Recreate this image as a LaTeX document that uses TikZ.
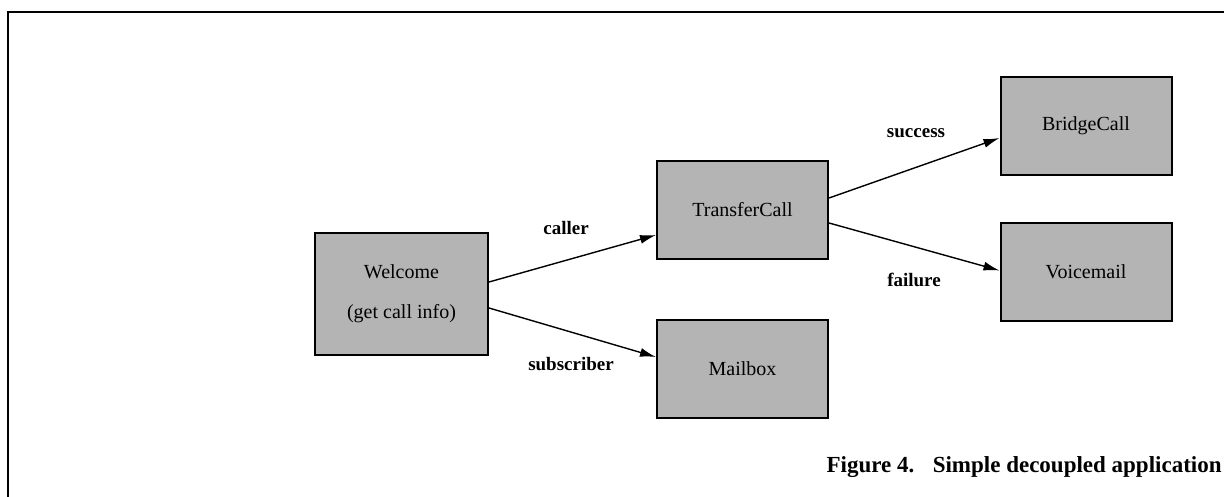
\documentclass[tikz,border=0pt]{standalone}
\usepackage{fontspec}
\setmainfont{Liberation Serif}
\usetikzlibrary{arrows.meta, positioning}
\definecolor{stategray}{RGB}{180, 180, 180}
\tikzset{
  statebox/.style={draw=black, line width=1pt, fill=stategray, minimum width=85.5pt, minimum height=49pt, inner sep=2pt, align=center, font=\fontsize{10}{12}\selectfont},
  flow/.style={-{Latex[length=8pt, width=4.5pt]}, line width=0.7pt},
  flowlabel/.style={font=\bfseries\fontsize{9.5}{11}\selectfont}
}

\begin{document}
\begin{tikzpicture}[x=0.5pt, y=-0.5pt]
  \useasboundingbox (0,0) rectangle (1224,497);

  % Frame
  \draw[line width=0.8pt] (8,497) -- (8,12) -- (1224,12);

  % States
  \node[statebox, minimum width=86.5pt, minimum height=61pt] (welcome) at (401.5, 294) {Welcome\\[8pt](get call info)};
  \node[statebox] (transfer) at (742.5, 210) {TransferCall};
  \node[statebox] (mailbox) at (742.5, 369) {Mailbox};
  \node[statebox] (bridge) at (1086, 126) {BridgeCall};
  \node[statebox] (voicemail) at (1086, 271.5) {Voicemail};

  % Transitions
  \draw[flow] ([yshift=6pt]welcome.east) -- ([yshift=-12.5pt]transfer.west);
  \draw[flow] ([yshift=-7pt]welcome.east) -- ([yshift=6pt]mailbox.west);
  \draw[flow] ([yshift=6pt]transfer.east) -- ([yshift=-6pt]bridge.west);
  \draw[flow] ([yshift=-6.5pt]transfer.east) -- ([yshift=0.5pt]voicemail.west);

  \node[flowlabel] (caller) at (566, 228) {caller};
  \node[flowlabel] (subscriber) at (571, 364) {subscriber};
  \node[flowlabel] (success) at (916, 133) {success};
  \node[flowlabel] (failure) at (914, 280) {failure};

  % Caption
  \node[anchor=base east, font=\bfseries\fontsize{11.5}{13}\selectfont, inner sep=0pt] (caption) at (1222, 472) {Figure 4.\hspace{0.8em}Simple decoupled application};
\end{tikzpicture}
\end{document}
